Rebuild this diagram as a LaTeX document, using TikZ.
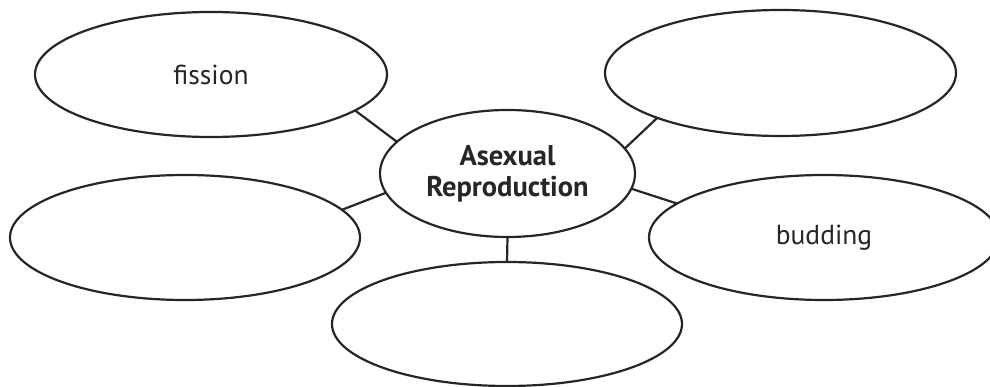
\documentclass[tikz,border=0pt]{standalone}
\usepackage{fontspec}
\setmainfont{PT Sans}
\usetikzlibrary{shapes.geometric}
\begin{document}
\begin{tikzpicture}[x=1pt,y=-1pt,
  bubble/.style={draw=black!85,line width=2.2pt,ellipse,inner sep=0pt,outer sep=0pt,
    font=\fontsize{27.5}{31}\selectfont,text=black!85},
  link/.style={draw=black!85,line width=2.2pt}]
\useasboundingbox (0,0) rectangle (990,387);
\node[bubble,minimum width=255,minimum height=127,align=center,
  font=\fontsize{28.5}{31}\selectfont\bfseries] (c) at (507.5,173.5) {Asexual\\Reproduction};
\node[bubble,minimum width=352,minimum height=125] (f) at (211,74.5) {fission};
\node[bubble,minimum width=351,minimum height=126] (tr) at (780.5,73) {};
\node[bubble,minimum width=350,minimum height=125] (lm) at (185,237.5) {};
\node[bubble,minimum width=350,minimum height=125] (bd) at (824,237.5) {budding};
\node[bubble,minimum width=350,minimum height=124] (bt) at (507,324) {};
\draw[link] (c.164.8) -- (f.-14.9);
\draw[link] (c.-171.5) -- (lm.10.5);
\draw[link] (c.12.3) -- (tr.200);
\draw[link] (c.-7.2) -- (bd.167.9);
\draw[link] (c.south) -- (bt.north);
\end{tikzpicture}
\end{document}
